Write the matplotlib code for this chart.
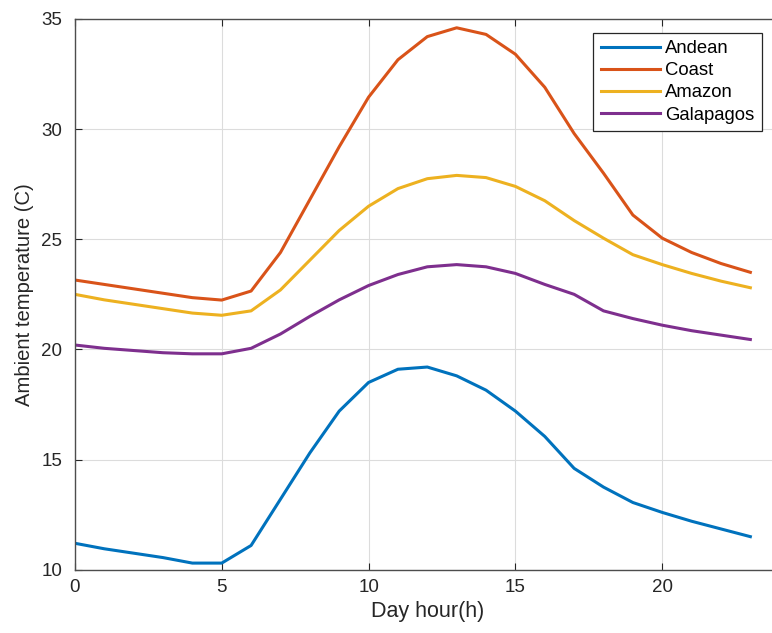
import numpy as np
import matplotlib.pyplot as plt

plt.rcParams['font.family'] = ['Liberation Sans', 'DejaVu Sans']

hours = np.arange(0, 24)

andean = [11.2, 10.95, 10.75, 10.55, 10.3, 10.3, 11.1, 13.2, 15.3, 17.2, 18.5,
          19.1, 19.2, 18.8, 18.15, 17.2, 16.05, 14.6, 13.75, 13.05, 12.6, 12.2,
          11.85, 11.5]
coast = [23.15, 22.95, 22.75, 22.55, 22.35, 22.24, 22.65, 24.4, 26.8, 29.2, 31.45,
         33.15, 34.2, 34.6, 34.3, 33.4, 31.9, 29.8, 28.0, 26.1, 25.05, 24.4,
         23.9, 23.5]
amazon = [22.5, 22.25, 22.05, 21.85, 21.65, 21.55, 21.75, 22.7, 24.05, 25.4, 26.5,
          27.3, 27.75, 27.9, 27.8, 27.4, 26.75, 25.85, 25.05, 24.3, 23.85, 23.45,
          23.1, 22.8]
galapagos = [20.2, 20.05, 19.95, 19.85, 19.8, 19.8, 20.05, 20.7, 21.5, 22.25, 22.9,
             23.4, 23.75, 23.85, 23.75, 23.45, 22.95, 22.5, 21.75, 21.4, 21.1, 20.85,
             20.65, 20.45]

series = [("Andean", andean, "#0072BD"),
          ("Coast", coast, "#D95319"),
          ("Amazon", amazon, "#EDB120"),
          ("Galapagos", galapagos, "#7E2F8E")]

fig = plt.figure(figsize=(7.72, 6.33), dpi=100)
# right edge of the axes sits past the image border, as in the cropped original
ax = fig.add_axes([0.097, 0.1, 0.913, 0.87])

for name, vals, col in series:
    ax.plot(hours, vals, color=col, linewidth=2.2, label=name)

ax.set_xlim(0, 24)
ax.set_ylim(10, 35)
ax.set_xticks([0, 5, 10, 15, 20])
ax.set_yticks([10, 15, 20, 25, 30, 35])
ax.grid(True, color='#dcdcdc', linewidth=0.8)
ax.tick_params(direction='in', top=True, right=False, labelsize=13.5,
               colors='#262626', length=5)
ax.tick_params(axis='y', pad=9)
ax.tick_params(axis='x', pad=7)
ax.spines['right'].set_visible(False)
for s in ax.spines.values():
    s.set_color('#4d4d4d')
    s.set_linewidth(1.0)

ax.set_xlabel('Day hour(h)', fontsize=15.5, color='#262626', labelpad=3)
ax.set_ylabel('Ambient temperature (C)', fontsize=14.6, color='#262626', labelpad=5)

leg = ax.legend(loc='upper right', bbox_to_anchor=(0.975, 0.975), fontsize=13.3,
                fancybox=False, edgecolor='#262626', framealpha=1,
                handlelength=3.2, borderpad=0.4, labelspacing=0.28,
                handletextpad=0.3, borderaxespad=0)
leg.get_frame().set_linewidth(0.9)

fig.savefig('out.png', dpi=100)
